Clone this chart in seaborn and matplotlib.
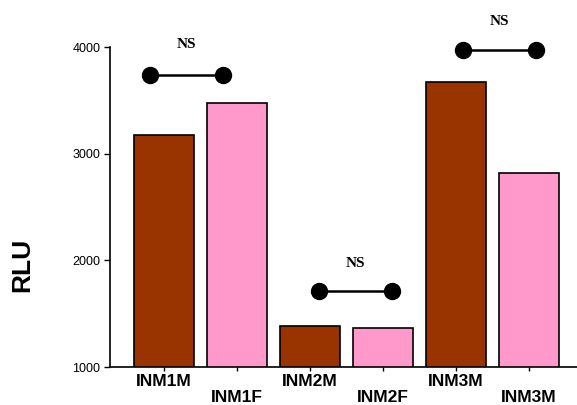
#!/usr/bin/env python3

import pandas as pd
import matplotlib.pyplot as plt
import seaborn as sns

groups = ["INM1M", "INM1F", "INM2M", "INM2F", "INM3M", "INM3M "]
rlu = [3180, 3475, 1385, 1365, 3670, 2820]
sex = ["M", "F", "M", "F", "M", "F"]
colors = {"M": "#993300", "F": "#FF99CC"}

# pairs compared: (left x, right x), line y, label y
pair_x = [(-0.19, 0.81), (2.12, 3.12), (4.1, 5.1)]
pair_y = [3735, 1710, 3970]
pair_text = ["NS", "NS", "NS"]
text_y = [4020, 1975, 4235]


def main():
    sns.set_style("ticks")
    plt.rcParams["font.family"] = ["Liberation Sans", "DejaVu Sans"]
    plt.rcParams["text.color"] = "black"
    plt.rcParams["xtick.color"] = "black"
    plt.rcParams["ytick.color"] = "black"
    plt.rcParams["axes.edgecolor"] = "black"

    data = pd.DataFrame({"group": groups, "RLU": rlu, "sex": sex})

    fig = plt.figure(figsize=(5.77, 4.05), dpi=100)
    ax = fig.add_axes([0.1906, 0.0938, 0.812, 0.79])

    sns.barplot(data=data, x="group", y="RLU", hue="sex", palette=colors,
                dodge=False, width=0.825, edgecolor="black", linewidth=1.2,
                saturation=1, legend=False, ax=ax)

    for (x0, x1), y in zip(pair_x, pair_y):
        ax.plot([x0, x1], [y, y], color="black", lw=1.8, marker="o",
                markersize=11.5, clip_on=False, zorder=5)
    for (x0, x1), y, t in zip(pair_x, text_y, pair_text):
        ax.text((x0 + x1) / 2, y, t, ha="center", va="center",
                fontsize=11, fontweight="bold", family="Liberation Serif",
                clip_on=False)

    ax.set_ylim(1000, 4000)
    ax.set_xlim(-0.743, 5.68)
    ax.set_yticks([1000, 2000, 3000, 4000])
    ax.tick_params(axis="y", labelsize=9, length=4, width=1, pad=3)
    ax.tick_params(axis="x", length=3, width=1, pad=2)
    labels = [g.strip() if i % 2 == 0 else "\n" + g.strip()
              for i, g in enumerate(groups)]
    ax.set_xticks(range(len(groups)))
    ax.set_xticklabels(labels, fontsize=12.5, fontweight="bold",
                       linespacing=1.05)
    ax.set_xlabel("")
    ax.set_ylabel("")
    fig.text(0.039, 0.346, "RLU", rotation=90, ha="center", va="center",
             fontsize=19, fontweight="bold")

    sns.despine(ax=ax)
    for s in ["left", "bottom"]:
        ax.spines[s].set_linewidth(1.2)

    plt.savefig("out.png", dpi=100)


if __name__ == "__main__":
    main()
